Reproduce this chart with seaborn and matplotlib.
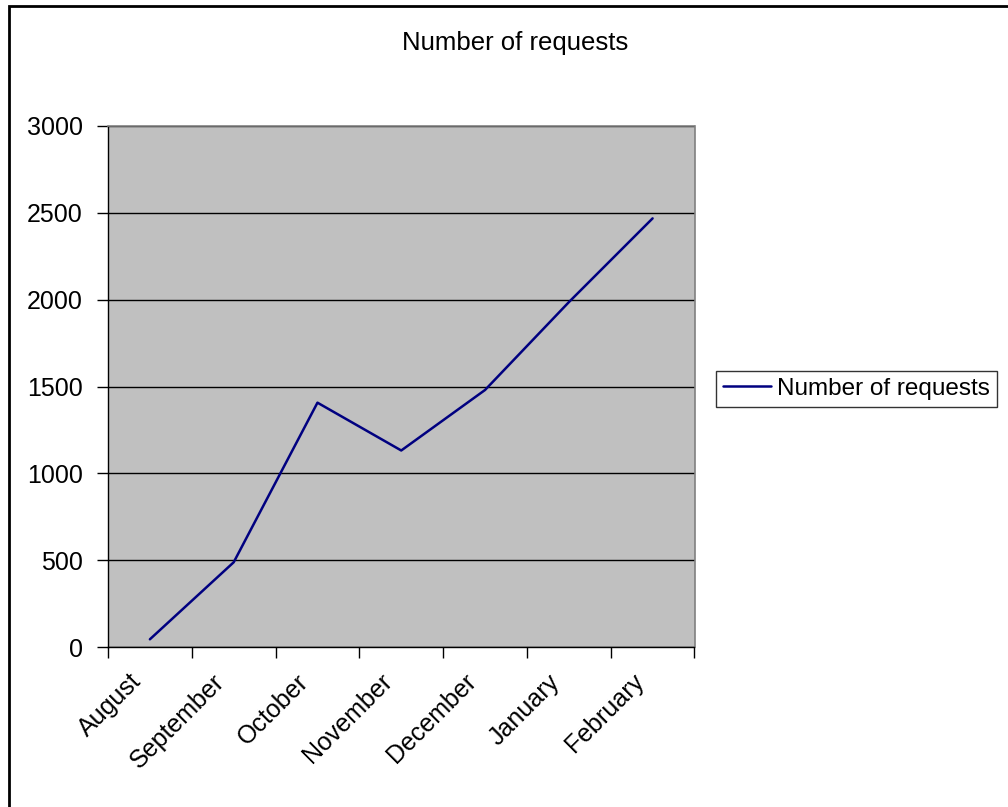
import matplotlib
matplotlib.use("Agg")
import matplotlib.pyplot as plt
import matplotlib.patches as mpatches
import matplotlib.transforms as mtransforms
from matplotlib import font_manager
from matplotlib.ticker import FixedLocator, NullFormatter
import seaborn as sns
import pandas as pd

months = ["August", "September", "October", "November", "December", "January", "February"]
requests = [46, 489, 1407, 1132, 1480, 1985, 2467]
series_name = "Number of requests"
y_ticks = [0, 500, 1000, 1500, 2000, 2500, 3000]

sns.set_style("white")

fam = "DejaVu Sans"
for f in font_manager.findSystemFonts():
    base = f.split("/")[-1]
    if base == "LiberationSans-Regular.ttf":
        font_manager.fontManager.addfont(f)
        fam = font_manager.FontProperties(fname=f).get_name()
        break
plt.rcParams['font.family'] = [fam, 'DejaVu Sans']
plt.rcParams['text.color'] = 'black'

W, H = 1008, 807
FS = 18
fig = plt.figure(figsize=(W / 100, H / 100), dpi=100)
fig.patch.set_facecolor("white")

ax = fig.add_axes([108 / W, 1 - 647.3 / H, (694.5 - 108) / W, (647.3 - 125.7) / H])
ax.set_facecolor("#C0C0C0")

df = pd.DataFrame({"month": months, "value": requests})
df["pos"] = range(len(months))
sns.lineplot(data=df, x="pos", y="value", ax=ax, color="#000080", linewidth=1.8,
             sort=False, label=series_name, legend=False)

ax.set_xlim(-0.5, len(months) - 0.5)
ax.set_ylim(0, 3000)
ax.set_yticks(y_ticks)
ax.set_yticklabels([str(v) for v in y_ticks], fontsize=FS, color="black")
ax.yaxis.grid(True, color="black", linewidth=1.0)
ax.set_axisbelow(True)

ax.set_xticks(range(len(months)))
ax.set_xticklabels(months, fontsize=FS, rotation=45, ha="right",
                   rotation_mode="anchor", color="black")
ax.xaxis.set_minor_locator(FixedLocator([i - 0.5 for i in range(len(months) + 1)]))
ax.xaxis.set_minor_formatter(NullFormatter())
ax.tick_params(axis="x", which="major", length=0, pad=16)
ax.tick_params(axis="x", which="minor", length=8, width=1, color="black", direction="out", bottom=True)
ax.tick_params(axis="y", which="major", length=8, width=1, color="black", direction="out", left=True, pad=10)
ax.set_xlabel("")
ax.set_ylabel("")

offset = mtransforms.ScaledTranslation(-21 / 100, 0, fig.dpi_scale_trans)
for lab in ax.get_xticklabels():
    lab.set_transform(lab.get_transform() + offset)

for side in ["top", "right"]:
    ax.spines[side].set_color("#808080")
    ax.spines[side].set_linewidth(1.2)
for side in ["left", "bottom"]:
    ax.spines[side].set_color("black")
    ax.spines[side].set_linewidth(1.0)

fig.text(515 / W, 1 - 43 / H, "Number of requests", ha="center", va="center", fontsize=18.5)

handles, labels = ax.get_legend_handles_labels()
leg = fig.legend(handles, labels, loc="center left",
                 bbox_to_anchor=(716 / W, 1 - 389 / H), fontsize=17.5,
                 frameon=True, fancybox=False, borderpad=0.3, handlelength=1.95,
                 handletextpad=0.25, borderaxespad=0)
leg.get_frame().set_edgecolor("black")
leg.get_frame().set_linewidth(1.0)

border = mpatches.Rectangle((8.5 / W, -0.1), 1.2, 1.1 - 6 / H, transform=fig.transFigure,
                            fill=False, edgecolor="black", linewidth=2.0, clip_on=False)
fig.patches.append(border)

fig.savefig("out.png", dpi=100)
